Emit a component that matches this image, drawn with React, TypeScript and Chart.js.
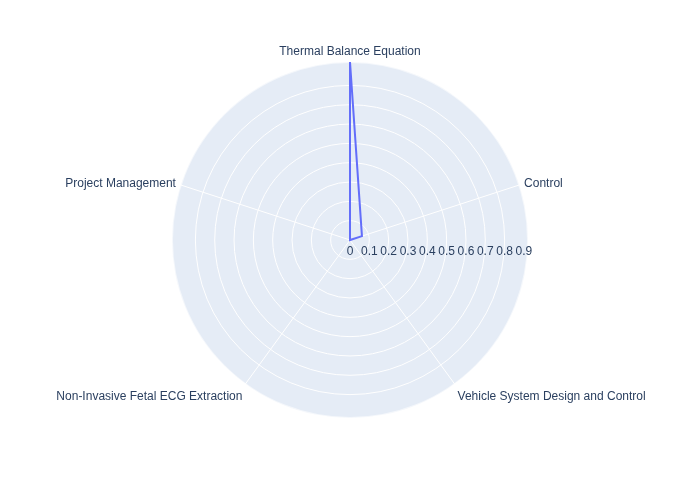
import React, { useEffect, useRef } from "react";
import { Chart, registerables } from "chart.js";

Chart.register(...registerables);

const categories = [
  "Thermal Balance Equation",
  "Control",
  "Vehicle System Design and Control",
  "Non-Invasive Fetal ECG Extraction",
  "Project Management",
];
const values = [0.921, 0.065, 0, 0, 0];
const radialTicks = [0, 0.1, 0.2, 0.3, 0.4, 0.5, 0.6, 0.7, 0.8, 0.9];
const radialMax = 0.921;

const FONT = '12px "Liberation Sans", Arial, sans-serif';
const TEXT = "#2a3f5f";

const polarPlugin = {
  id: "polarDeco",
  beforeDraw(chart: any) {
    const s = chart.scales.r;
    const ctx = chart.ctx;
    ctx.save();
    ctx.beginPath();
    ctx.arc(s.xCenter, s.yCenter, s.drawingArea, 0, Math.PI * 2);
    ctx.fillStyle = "#E5ECF6";
    ctx.fill();
    ctx.restore();
  },
  afterDraw(chart: any) {
    const s = chart.scales.r;
    const ctx = chart.ctx;
    ctx.save();
    ctx.font = FONT;
    ctx.fillStyle = TEXT;
    // radial tick labels along the east direction
    ctx.textAlign = "center";
    ctx.textBaseline = "middle";
    radialTicks.forEach((v) => {
      const d = s.getDistanceFromCenterForValue(v);
      ctx.fillText(String(v), s.xCenter + d, s.yCenter + 12);
    });
    // category labels
    categories.forEach((label, i) => {
      const p = s.getPointPosition(i, s.drawingArea + 5);
      const dx = p.x - s.xCenter;
      const dy = p.y - s.yCenter;
      let align: CanvasTextAlign = "center";
      if (dx > 1) align = "left";
      else if (dx < -1) align = "right";
      let y = p.y;
      if (Math.abs(dx) <= 1 && dy < 0) y = p.y - 5;
      else if (dy > 60) y = p.y + 9;
      ctx.textAlign = align;
      ctx.textBaseline = "middle";
      ctx.fillText(label, p.x, y);
    });
    ctx.restore();
  },
};

export default function App() {
  const ref = useRef<HTMLCanvasElement>(null);
  useEffect(() => {
    document.body.style.margin = "0";
    const chart = new Chart(ref.current!, {
      type: "radar",
      data: {
        labels: categories,
        datasets: [
          {
            data: values,
            borderColor: "#636efa",
            borderWidth: 2,
            pointRadius: 0,
            pointHoverRadius: 0,
            fill: false,
            tension: 0,
          },
        ],
      },
      options: {
        responsive: false,
        animation: false,
        layout: { padding: { top: 62, bottom: 82, left: 0, right: 0 } },
        plugins: { legend: { display: false }, tooltip: { enabled: false } },
        scales: {
          r: {
            min: 0,
            max: radialMax,
            ticks: { display: false, stepSize: 0.1 },
            pointLabels: { display: false },
            grid: {
              circular: true,
              color: (c: any) =>
                c.tick && c.tick.value > 0.91 ? "rgba(255,255,255,0.6)" : "#ffffff",
              lineWidth: (c: any) => (c.tick && c.tick.value > 0.91 ? 2 : 1),
            },
            angleLines: { color: "#ffffff", lineWidth: 1 },
          },
        },
      },
      plugins: [polarPlugin],
    });
    return () => chart.destroy();
  }, []);
  return <canvas ref={ref} width={700} height={500} />;
}
